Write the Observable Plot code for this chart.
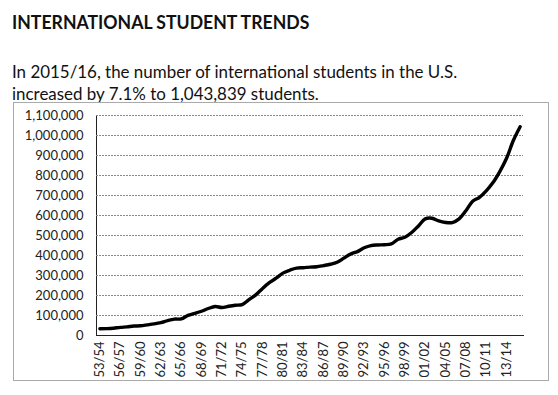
<!DOCTYPE html>
<html><head><meta charset="utf-8">
<script src="https://cdn.jsdelivr.net/npm/d3@7"></script>
<script src="https://cdn.jsdelivr.net/npm/@observablehq/plot@0.6"></script>
<style>
body{margin:0;background:#fff;font-family:"Lato",sans-serif;}
#wrap{position:relative;width:558px;height:395px;overflow:hidden;}
#title{position:absolute;left:12px;top:12px;font-size:18px;line-height:1.2;font-weight:700;color:#111;transform:scaleX(0.98);transform-origin:left top;white-space:nowrap;}
.sub{position:absolute;left:12px;font-size:18px;line-height:22px;height:22px;color:#111;transform:scaleX(0.94);transform-origin:left top;white-space:nowrap;}
#box{position:absolute;left:13px;top:102px;width:534px;height:277px;border:1px solid #aaa;}
</style></head><body>
<div id="wrap">
<div id="title">INTERNATIONAL STUDENT TRENDS</div>
<div class="sub" style="top:60px">In 2015/16, the number of international students in the U.S.</div>
<div class="sub" style="top:82px">increased by 7.1% to 1,043,839 students.</div>
<div id="box"></div>
</div>
<script>
const years = ["53/54","54/55","55/56","56/57","57/58","58/59","59/60","60/61","61/62","62/63","63/64","64/65","65/66","66/67","67/68","68/69","69/70","70/71","71/72","72/73","73/74","74/75","75/76","76/77","77/78","78/79","79/80","80/81","81/82","82/83","83/84","84/85","85/86","86/87","87/88","88/89","89/90","90/91","91/92","92/93","93/94","94/95","95/96","96/97","97/98","98/99","99/00","00/01","01/02","02/03","03/04","04/05","05/06","06/07","07/08","08/09","09/10","10/11","11/12","12/13","13/14","14/15","15/16"];
const students = [33675,34232,36494,40666,43391,47245,48486,53107,58086,64705,74814,82045,82709,100262,110315,121362,134959,144708,140126,146097,151066,154580,179344,203068,235509,263938,286343,311882,326299,336985,338894,342113,343777,349609,356187,366354,386851,407529,419585,438618,449749,452653,453787,457984,481280,490933,514723,547867,582996,586323,572509,565039,564766,582984,623805,671616,690923,723277,764495,819644,886052,974926,1043839];
const xTicks = years.filter((d,i)=>i%3===0);
const yTicks = d3.range(0, 1100001, 100000);
const data = years.map((y,i)=>({year:y, value:students[i]}));

const chart = Plot.plot({
  width: 534, height: 277,
  marginLeft: 82, marginRight: 25, marginTop: 12, marginBottom: 45,
  style: {fontFamily: "Lato, sans-serif", fontSize: "13px", color: "#222", background: "transparent"},
  x: {type: "point", domain: years, padding: 0.5, ticks: xTicks, tickRotate: -90, tickSize: 0, tickPadding: 6, label: null, line: true},
  y: {domain: [0, 1100000], ticks: yTicks, tickFormat: d3.format(","), tickSize: 0, tickPadding: 13, label: null, line: true},
  marks: [
    Plot.ruleY(yTicks.filter(d=>d>0), {stroke: "#888", strokeDasharray: "2,1", strokeOpacity: 1, strokeWidth: 1}),
    Plot.line(data, {x: "year", y: "value", stroke: "#000", strokeWidth: 3.4, curve: "catmull-rom"})
  ]
});
chart.style.position = "absolute";
chart.style.left = "0px";
chart.style.top = "0px";
document.getElementById("box").appendChild(chart);
</script>
</body></html>
